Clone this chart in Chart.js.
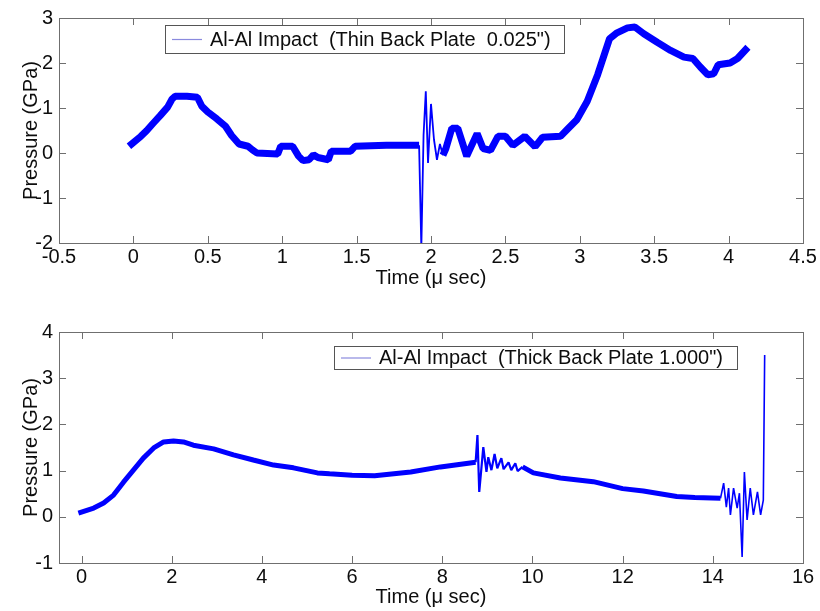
<!DOCTYPE html>
<html><head><meta charset="utf-8">
<script src="https://cdn.jsdelivr.net/npm/chart.js@4.4.1/dist/chart.umd.min.js"></script>
<style>
html,body{margin:0;padding:0;background:#fff;}
#w1{position:absolute;left:0;top:0;width:820px;height:300px;}
#w2{position:absolute;left:0;top:300px;width:820px;height:311px;}
canvas{display:block;}
</style></head><body>
<div id="w1"><canvas id="c1" width="820" height="300"></canvas></div>
<div id="w2"><canvas id="c2" width="820" height="311"></canvas></div>
<script>
// ---- data ----
const topTime = [-0.03, 0.05, 0.09, 0.13, 0.18, 0.23, 0.26, 0.28, 0.36, 0.43, 0.46, 0.50, 0.56, 0.62, 0.66, 0.71, 0.77, 0.80, 0.83, 0.97, 0.99, 1.07, 1.11, 1.14, 1.18, 1.21, 1.24, 1.31, 1.33, 1.46, 1.49, 1.70, 1.92, 1.935, 1.95, 1.965, 1.98, 2.00, 2.02, 2.04, 2.06, 2.08, 2.10, 2.14, 2.18, 2.24, 2.31, 2.35, 2.40, 2.45, 2.50, 2.55, 2.63, 2.70, 2.75, 2.87, 2.92, 2.98, 3.05, 3.12, 3.17, 3.20, 3.25, 3.32, 3.37, 3.43, 3.52, 3.61, 3.70, 3.76, 3.81, 3.86, 3.90, 3.93, 4.01, 4.06, 4.13];
const topPressure = [0.15, 0.37, 0.50, 0.65, 0.83, 1.02, 1.20, 1.26, 1.26, 1.24, 1.04, 0.91, 0.76, 0.59, 0.39, 0.20, 0.15, 0.07, 0.00, -0.02, 0.15, 0.15, -0.07, -0.17, -0.15, -0.04, -0.10, -0.15, 0.04, 0.04, 0.15, 0.17, 0.17, -2.1, 0.40, 1.37, -0.22, 1.09, 0.30, -0.15, 0.20, -0.05, 0.10, 0.55, 0.55, -0.07, 0.43, 0.10, 0.06, 0.37, 0.37, 0.17, 0.37, 0.14, 0.35, 0.37, 0.54, 0.74, 1.15, 1.74, 2.24, 2.54, 2.67, 2.78, 2.80, 2.65, 2.46, 2.28, 2.13, 2.10, 1.91, 1.74, 1.76, 1.96, 2.00, 2.10, 2.35];

const bottomTime = [-0.07, 0.27, 0.49, 0.71, 0.93, 1.15, 1.37, 1.60, 1.82, 2.04, 2.26, 2.48, 2.93, 3.37, 3.81, 4.26, 4.70, 5.23, 5.50, 6.00, 6.50, 7.30, 7.96, 8.74, 8.78, 8.82, 8.91, 8.98, 9.02, 9.09, 9.16, 9.22, 9.31, 9.36, 9.47, 9.53, 9.62, 9.67, 9.78, 10.02, 10.62, 11.35, 12.00, 12.46, 13.20, 13.60, 14.17, 14.24, 14.30, 14.35, 14.39, 14.46, 14.54, 14.59, 14.65, 14.70, 14.76, 14.83, 14.90, 14.99, 15.06, 15.12, 15.15];
const bottomPressure = [0.08, 0.19, 0.30, 0.47, 0.75, 1.01, 1.27, 1.49, 1.62, 1.64, 1.62, 1.55, 1.47, 1.34, 1.23, 1.12, 1.06, 0.95, 0.93, 0.90, 0.89, 0.97, 1.08, 1.18, 1.77, 0.54, 1.51, 0.97, 1.29, 1.01, 1.36, 1.05, 1.27, 1.03, 1.18, 1.01, 1.16, 0.99, 1.08, 0.95, 0.84, 0.76, 0.61, 0.56, 0.44, 0.42, 0.40, 0.73, 0.21, 0.62, 0.04, 0.62, 0.19, 0.51, -0.87, 0.97, -0.07, 0.62, 0.04, 0.54, 0.04, 0.36, 3.50];

const topXTicks = [-0.5, 0, 0.5, 1, 1.5, 2, 2.5, 3, 3.5, 4, 4.5];
const topYTicks = [-2, -1, 0, 1, 2, 3];
const bottomXTicks = [0, 2, 4, 6, 8, 10, 12, 14, 16];
const bottomYTicks = [-1, 0, 1, 2, 3, 4];

const topLabel = 'Al-Al Impact  (Thin Back Plate  0.025")';
const bottomLabel = 'Al-Al Impact  (Thick Back Plate 1.000")';
const xTitle = 'Time (\u03bc sec)';
const yTitle = 'Pressure (GPa)';

// ---- rendering ----
const FONT = 'Liberation Sans, Arial, Helvetica, sans-serif';
const TXT = '#0d0d0d';
const AXIS = '#6f6f6f';

const framePlugin = {
  id: 'frame',
  afterDatasetsDraw(chart, args, o) {
    const {ctx, chartArea: a, scales: {x, y}} = chart;
    ctx.save();
    ctx.strokeStyle = AXIS;
    ctx.lineWidth = 1;
    ctx.strokeRect(a.left + 0.5, a.top + 0.5, a.right - a.left, a.bottom - a.top);
    const L = 7;
    ctx.beginPath();
    x.ticks.forEach(t => {
      const px = Math.round(x.getPixelForValue(t.value)) + 0.5;
      ctx.moveTo(px, a.bottom); ctx.lineTo(px, a.bottom - L);
      ctx.moveTo(px, a.top); ctx.lineTo(px, a.top + L);
    });
    y.ticks.forEach(t => {
      const py = Math.round(y.getPixelForValue(t.value)) + 0.5;
      ctx.moveTo(a.left, py); ctx.lineTo(a.left + L, py);
      ctx.moveTo(a.right, py); ctx.lineTo(a.right - L, py);
    });
    ctx.stroke();
    // legend box
    const lg = o.box;
    ctx.fillStyle = '#ffffff';
    ctx.fillRect(lg.x, lg.y, lg.w, lg.h);
    ctx.strokeStyle = '#555555';
    ctx.strokeRect(lg.x + 0.5, lg.y + 0.5, lg.w, lg.h);
    ctx.strokeStyle = 'rgba(60,60,200,0.6)';
    ctx.lineWidth = 1.2;
    ctx.beginPath();
    ctx.moveTo(lg.x + 7, lg.y + lg.h / 2 + 0.5);
    ctx.lineTo(lg.x + 37, lg.y + lg.h / 2 + 0.5);
    ctx.stroke();
    ctx.fillStyle = TXT;
    ctx.font = '20px ' + FONT;
    ctx.textBaseline = 'middle';
    ctx.textAlign = 'left';
    ctx.fillText(chart.data.datasets[0].label, lg.x + 45, lg.y + lg.h / 2 + 1);
    ctx.restore();
  }
};

function makeChart(id, times, values, label, xt, yt, xr, yr, lay, thinFn, thickW) {
  const data = times.map((t, i) => ({x: t, y: values[i]}));
  return new Chart(document.getElementById(id), {
    type: 'line',
    data: {datasets: [{
      label: label,
      data: data,
      borderColor: '#0000ff',
      borderWidth: thickW,
      borderJoinStyle: 'bevel',
      pointRadius: 0,
      tension: 0,
      fill: false,
      segment: {
        borderWidth: c => thinFn(c.p0.parsed.x, c.p1.parsed.x)
      }
    }]},
    options: {
      responsive: false,
      animation: false,
      events: [],
      layout: {padding: {left: 0, right: 17, top: lay.top, bottom: 0}},
      plugins: {
        legend: {display: false},
        tooltip: {enabled: false},
        frame: {box: lay.legend}
      },
      scales: {
        x: {
          type: 'linear', min: xr[0], max: xr[1],
          afterBuildTicks: s => { s.ticks = xt.map(v => ({value: v})); },
          afterFit: s => { s.height = lay.xh; },
          grid: {display: false, drawTicks: false},
          border: {display: false},
          ticks: {padding: 2, color: TXT, autoSkip: false, maxRotation: 0,
                  font: {family: FONT, size: 20}, callback: v => String(v)},
          title: {display: true, text: xTitle, color: TXT,
                  font: {family: FONT, size: 20}, padding: {top: 0, bottom: lay.xtb}}
        },
        y: {
          type: 'linear', min: yr[0], max: yr[1],
          afterBuildTicks: s => { s.ticks = yt.map(v => ({value: v})); },
          afterFit: s => { s.width = 59; },
          grid: {display: false, drawTicks: false},
          border: {display: false},
          ticks: {padding: 6, color: TXT, autoSkip: false,
                  font: {family: FONT, size: 20}, callback: v => String(v)},
          title: {display: true, text: yTitle, color: TXT,
                  font: {family: FONT, size: 20}, padding: {top: 19, bottom: 0}}
        }
      }
    },
    plugins: [framePlugin]
  });
}

makeChart('c1', topTime, topPressure, topLabel, topXTicks, topYTicks, [-0.5, 4.5], [-2, 3],
  {top: 13, xh: 57, xtb: 10, legend: {x: 165, y: 25, w: 399, h: 28}},
  (a, b) => (a >= 1.92 && b <= 2.08) ? 1.8 : 7, 7);

makeChart('c2', bottomTime, bottomPressure, bottomLabel, bottomXTicks, bottomYTicks, [-0.5, 16], [-1, 4],
  {top: 32, xh: 48, xtb: 2, legend: {x: 334, y: 46, w: 403, h: 23}},
  (a, b) => (a >= 8.74 && b <= 9.8) ? 2.2 : (a >= 14.17 ? 1.6 : 5), 5);
</script>
</body></html>
